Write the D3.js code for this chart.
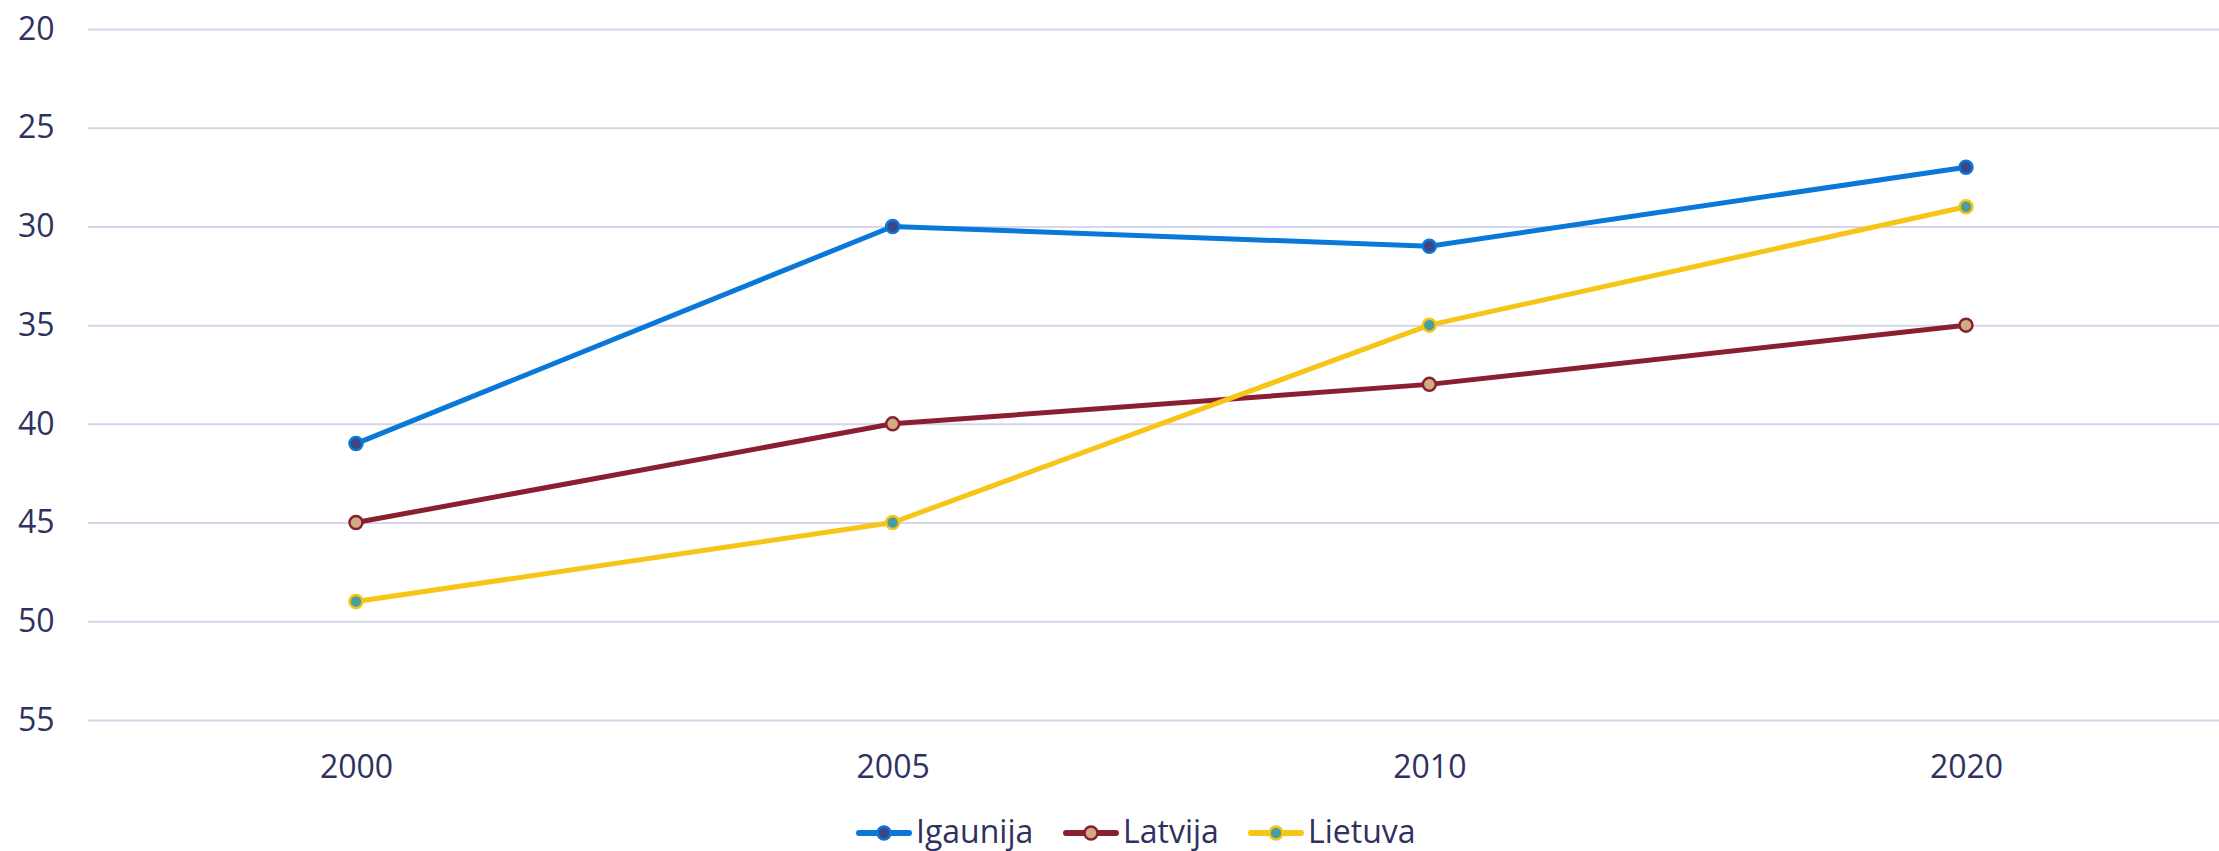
<!DOCTYPE html>
<html>
<head>
<meta charset="utf-8">
<script src="https://cdn.jsdelivr.net/npm/d3@7"></script>
<style>
body{margin:0;background:#fff;}
#chart text{font-family:"Open Sans","Noto Sans",sans-serif;fill:#2f3160;}
</style>
</head>
<body>
<div id="chart"></div>
<script>
// data
var years=['2000','2005','2010','2020'];
var igaunija=[41,30,31,27];
var latvija=[45,40,38,35];
var lietuva=[49,45,35,29];
var yTicks=[20,25,30,35,40,45,50,55];

var series=[
	{name:'Igaunija',values:igaunija,line:'#0a78d8',fill:'#3f4685'},
	{name:'Latvija',values:latvija,line:'#8a1f31',fill:'#cfac84'},
	{name:'Lietuva',values:lietuva,line:'#f7c516',fill:'#4a9ea0'}
];

var width=2219,height=851;
var svg=d3.select('#chart').append('svg')
		.attr('width',width)
		.attr('height',height);

var x=d3.scalePoint()
		.domain(years)
		.range([356,1966]);
var y=d3.scaleLinear()
		.domain([20,55])
		.range([29,720]);

// grid + y labels
var yAxis=d3.axisLeft(y)
		.tickValues(yTicks)
		.tickSize(-(width-88))
		.tickPadding(35);
var gy=svg.append('g')
	.attr('transform','translate(88,0)')
	.call(yAxis);
gy.select('.domain').remove();
gy.selectAll('line').attr('stroke','#d6d6ec').attr('stroke-width',2);
gy.selectAll('text').attr('font-size',32).attr('text-anchor','start').attr('x',-70);

// x labels
var xAxis=d3.axisBottom(x).tickSize(0).tickPadding(0);
var gx=svg.append('g')
	.attr('transform','translate(0,755)')
	.call(xAxis);
gx.select('.domain').remove();
gx.selectAll('text').attr('font-size',32).attr('dy','0.71em');

var line=d3.line()
		.x(function(d,i){return x(years[i]);})
		.y(function(d){return y(d);});

series.forEach(function(s){
	svg.append('path')
		.datum(s.values)
		.attr('d',line)
		.attr('fill','none')
		.attr('stroke',s.line)
		.attr('stroke-width',5);
	svg.selectAll('.pt-'+s.name)
		.data(s.values)
		.enter()
		.append('circle')
		.attr('cx',function(d,i){return x(years[i]);})
		.attr('cy',function(d){return y(d);})
		.attr('r',6.5)
		.attr('fill',s.fill)
		.attr('stroke',s.line)
		.attr('stroke-width',2.5);
});

// legend
var legendX=[856,1063,1248];
var lg=svg.selectAll('.legend')
	.data(series)
	.enter()
	.append('g')
	.attr('transform',function(d,i){return 'translate('+legendX[i]+',833)';});
lg.append('line')
	.attr('x1',3).attr('x2',53)
	.attr('stroke',function(d){return d.line;})
	.attr('stroke-width',6)
	.attr('stroke-linecap','round');
lg.append('circle')
	.attr('cx',28).attr('r',6.5)
	.attr('fill',function(d){return d.fill;})
	.attr('stroke',function(d){return d.line;})
	.attr('stroke-width',2.5);
lg.append('text')
	.attr('x',60)
	.attr('y',10)
	.attr('font-size',32)
	.text(function(d){return d.name;});
</script>
</body>
</html>
